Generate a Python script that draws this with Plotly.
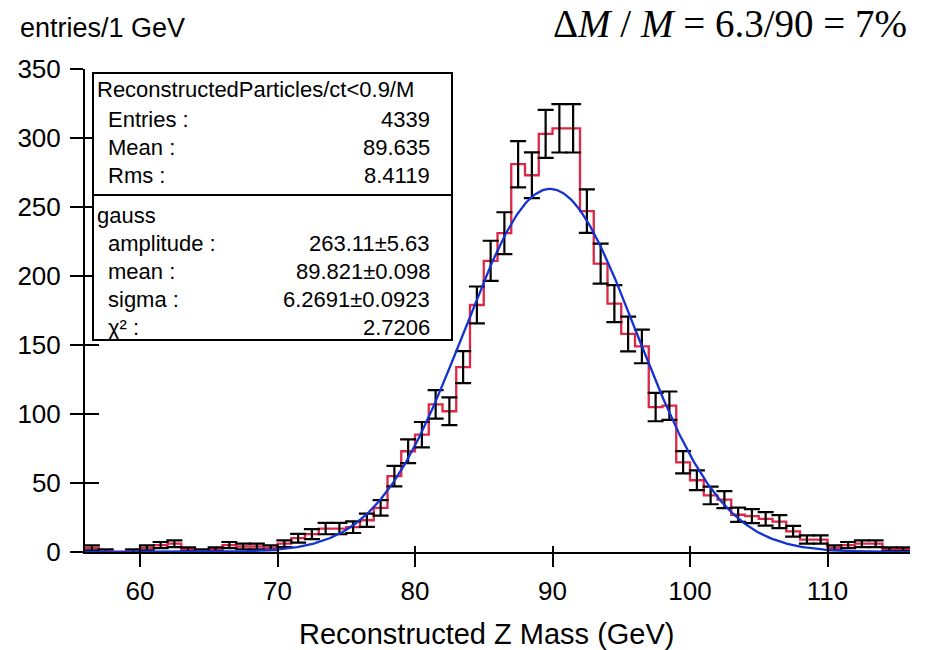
import numpy as np
import plotly.graph_objects as go

# ---------------- data ----------------
bin_low_edges = list(range(56, 116))          # 1 GeV bins 56..116
counts = [3, 1, 0, 1, 3, 5, 6, 2, 1, 2,
          5, 4, 4, 3, 6, 10, 13, 17, 17, 18,
          23, 32, 55, 73, 85, 107, 102, 134, 179, 211,
          231, 281, 273, 303, 307, 307, 247, 209, 180, 158,
          149, 105, 106, 65, 52, 41, 38, 27, 26, 24,
          22, 15, 9, 9, 3, 5, 6, 6, 2, 2]
bin_width = 1.0

fit_amplitude = 263.11
fit_mean = 89.821
fit_sigma = 6.2691

x_tick_vals = [60, 70, 80, 90, 100, 110]
y_tick_vals = [0, 50, 100, 150, 200, 250, 300, 350]
x_range = [56, 116]
y_range = [0, 350]

hist_title = "ReconstructedParticles/ct<0.9/M"
stats_labels = ["Entries :", "Mean :", "Rms :"]
stats_values = ["4339", "89.635", "8.4119"]
fit_name = "gauss"
fit_labels = ["amplitude :", "mean :", "sigma :", "χ² :"]
fit_values = ["263.11±5.63", "89.821±0.098", "6.2691±0.0923", "2.7206"]

y_title = "entries/1 GeV"
x_title = "Reconstructed Z Mass (GeV)"
top_title = "Δ<i>M</i> / <i>M</i> = 6.3/90 = 7%"

# ---------------- derived ----------------
edges = bin_low_edges + [bin_low_edges[-1] + bin_width]
step_y = counts + [counts[-1]]
centers = [e + bin_width / 2 for e in bin_low_edges]
errs = [float(np.sqrt(c)) for c in counts]
xf = np.linspace(x_range[0], x_range[1], 600)
yf = fit_amplitude * np.exp(-0.5 * ((xf - fit_mean) / fit_sigma) ** 2)

W, H = 929, 650
ML, MR, MT, MB = 85, 19, 69, 98
PW, PH = W - ML - MR, H - MT - MB


def px(X):
    return (X - ML) / PW


def py(Y):
    return (H - MB - Y) / PH


FONT = "Liberation Sans, Arial, sans-serif"
RED = "#DC2846"
BLUE = "#1432D2"

fig = go.Figure()
fig.add_trace(go.Scatter(x=edges, y=step_y, mode="lines", line=dict(color=RED, width=2.3, shape="hv"),
                         hoverinfo="skip", showlegend=False))
fig.add_trace(go.Scatter(x=centers, y=counts, mode="markers",
                         marker=dict(size=1, color="rgba(0,0,0,0)"),
                         error_y=dict(type="data", array=errs, visible=True, color="black",
                                      thickness=2.2, width=8),
                         showlegend=False))
fig.add_trace(go.Scatter(x=xf, y=yf, mode="lines", line=dict(color=BLUE, width=2.3),
                         showlegend=False))
# invisible trace for overlay axes (inside tick halves)
fig.add_trace(go.Scatter(x=[x_range[0]], y=[y_range[0]], mode="markers", marker=dict(size=1, opacity=0),
                         xaxis="x2", yaxis="y2", showlegend=False, hoverinfo="skip"))

axis_common = dict(showgrid=False, zeroline=False, tickfont=dict(family=FONT, size=26, color="black"))
fig.update_layout(
    width=W, height=H,
    margin=dict(l=ML, r=MR, t=MT, b=MB, pad=0),
    plot_bgcolor="white", paper_bgcolor="white",
    xaxis=dict(range=x_range, tickvals=x_tick_vals, ticks="outside", ticklen=13, tickwidth=2,
               tickcolor="black", showline=True, linecolor="black", linewidth=2,
               ticklabelstandoff=2, **axis_common),
    yaxis=dict(range=y_range, tickvals=y_tick_vals, ticks="outside", ticklen=13, tickwidth=2,
               tickcolor="black", showline=True, linecolor="black", linewidth=2,
               ticklabelstandoff=4, **axis_common),
    xaxis2=dict(range=x_range, tickvals=x_tick_vals, ticks="inside", ticklen=6, tickwidth=2,
                tickcolor="black", showticklabels=False, showline=False, overlaying="x",
                anchor="y2", side="bottom", showgrid=False, zeroline=False),
    yaxis2=dict(range=y_range, tickvals=y_tick_vals, ticks="inside", ticklen=14, tickwidth=2,
                tickcolor="black", showticklabels=False, showline=False, overlaying="y",
                anchor="x2", side="left", showgrid=False, zeroline=False),
    showlegend=False,
)

shapes = [
    dict(type="rect", xref="paper", yref="paper", x0=px(93), x1=px(452), y0=py(340), y1=py(73),
         line=dict(color="black", width=2), fillcolor="white", layer="above"),
    dict(type="line", xref="paper", yref="paper", x0=px(93), x1=px(452), y0=py(195), y1=py(195),
         line=dict(color="black", width=2), layer="above"),
]
fig.update_layout(shapes=shapes)

ann = []
BOXF = dict(family=FONT, size=22, color="black")


def text(X, Y, s, xanchor="left", font=BOXF):
    ann.append(dict(xref="paper", yref="paper", x=px(X), y=py(Y), text=s, showarrow=False,
                    xanchor=xanchor, yanchor="middle", font=font))


text(95, 90, hist_title)
rows_y = [119, 147, 175]
for yy, lab, val in zip(rows_y, stats_labels, stats_values):
    text(106, yy, lab)
    text(432, yy, val, "right")
text(95, 215, fit_name)
rows_y2 = [243, 271, 299, 327]
for yy, lab, val in zip(rows_y2, fit_labels, fit_values):
    text(106, yy, lab)
    text(432, yy, val, "right")

text(18, 28, y_title, font=dict(family=FONT, size=27, color="black"))
text(487, 634, x_title, "center", font=dict(family=FONT, size=29, color="black"))
ann.append(dict(xref="paper", yref="paper", x=px(909), y=py(24),
                text=top_title, showarrow=False,
                xanchor="right", yanchor="middle",
                font=dict(family="Liberation Serif, Times New Roman, serif", size=39, color="black")))
fig.update_layout(annotations=ann)

fig.write_html("out.html")
